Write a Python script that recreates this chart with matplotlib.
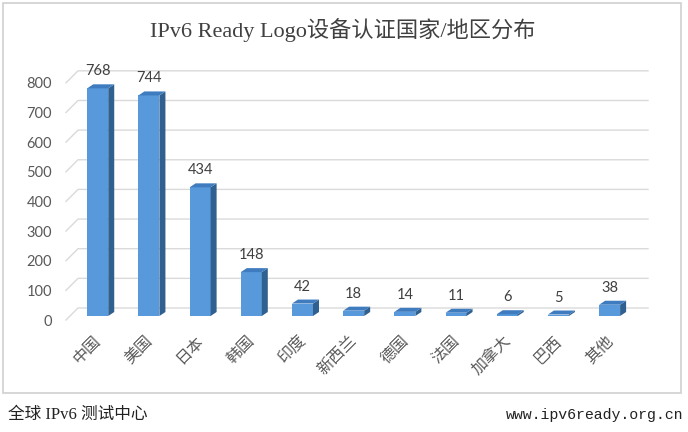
import matplotlib.pyplot as plt
from matplotlib.patches import Polygon, Rectangle

# data
categories = ['中国', '美国', '日本', '韩国', '印度', '新西兰', '德国', '法国', '加拿大', '巴西', '其他']
counts = [768, 744, 434, 148, 42, 18, 14, 11, 6, 5, 38]
yticks = [0, 100, 200, 300, 400, 500, 600, 700, 800]

W, H = 688, 432
fig = plt.figure(figsize=(W / 100, H / 100), dpi=100)
fig.patch.set_facecolor('white')

# frame of the chart
fig.patches.append(Rectangle((3 / W, 1 - 393 / H), 678 / W, 390 / H, transform=fig.transFigure,
                             fill=False, edgecolor='#cfcfcf', linewidth=1.2))

# plot area (front plane: value 0 at pixel 320, axes top at pixel 68)
ax = fig.add_axes([66 / W, (H - 320) / H, (648 - 66) / W, (320 - 68) / H])
xmin, xmax = -0.62, 10.75
ymin, ymax = 0, 850
ax.set_xlim(xmin, xmax)
ax.set_ylim(ymin, ymax)
for s in ax.spines.values():
    s.set_visible(False)

# pixel -> data conversion for the fake 3d depth
px_x = (648 - 66) / (xmax - xmin)
px_y = (320 - 68) / (ymax - ymin)
def dx(p):
    return p / px_x
def dy(p):
    return p / px_y

grid_col = '#dadada'
# back wall gridlines with slanted side-wall part
for v in yticks:
    ax.plot([xmin, xmin + dx(12), xmax], [v, v + dy(12), v + dy(12)],
            color=grid_col, lw=1.0, clip_on=False, zorder=1)

front_col = '#5799da'
side_col = '#30608f'
top_col = '#3f7cbf'
bw = dx(21) / 2
base = dy(4)
sx, sy = dx(6), dy(4)
for i, v in enumerate(counts):
    x0, x1 = i - bw, i + bw
    y0, y1 = base, base + v
    ax.add_patch(Polygon([(x0, y0), (x1, y0), (x1, y1), (x0, y1)], closed=True,
                         facecolor=front_col, edgecolor='none', zorder=3))
    ax.add_patch(Polygon([(x1, y0), (x1 + sx, y0 + sy), (x1 + sx, y1 + sy), (x1, y1)], closed=True,
                         facecolor=side_col, edgecolor='none', zorder=3))
    ax.add_patch(Polygon([(x0, y1), (x1, y1), (x1 + sx, y1 + sy), (x0 + sx, y1 + sy)], closed=True,
                         facecolor=top_col, edgecolor='none', zorder=3))
    ax.annotate(str(v), (i, y1 + sy), xytext=(0, 6), textcoords='offset pixels',
                ha='center', va='bottom', fontsize=10.5, color='#404040', family='Lato')

# axis labels
ax.set_xticks([])
ax.set_yticks(yticks)
ax.set_yticklabels([str(t) for t in yticks], fontsize=10.5, color='#595959', family='Lato')
ax.tick_params(axis='y', length=0, pad=10)

for i, c in enumerate(categories):
    ax.text(i - 0.1, -dy(12), c, rotation=45, rotation_mode='anchor', ha='right', va='top',
            fontsize=11.5, color='#595959', family='Noto Sans CJK SC')

# title and footer
fig.text(343 / W, 1 - 30 / H, 'IPv6 Ready Logo设备认证国家/地区分布', ha='center', va='center',
         fontsize=16, color='#404040', family=['Liberation Serif', 'Noto Sans CJK SC'])
fig.text(8 / W, 1 - 415 / H, '全球 IPv6 测试中心', ha='left', va='center',
         fontsize=12, color='#222222', family=['Liberation Serif', 'Noto Sans CJK SC'])
fig.text(683 / W, 1 - 415 / H, 'www.ipv6ready.org.cn', ha='right', va='center',
         fontsize=10.7, color='#222222', family=['Liberation Mono', 'Noto Sans CJK SC'])

fig.savefig('out.png', dpi=100)
